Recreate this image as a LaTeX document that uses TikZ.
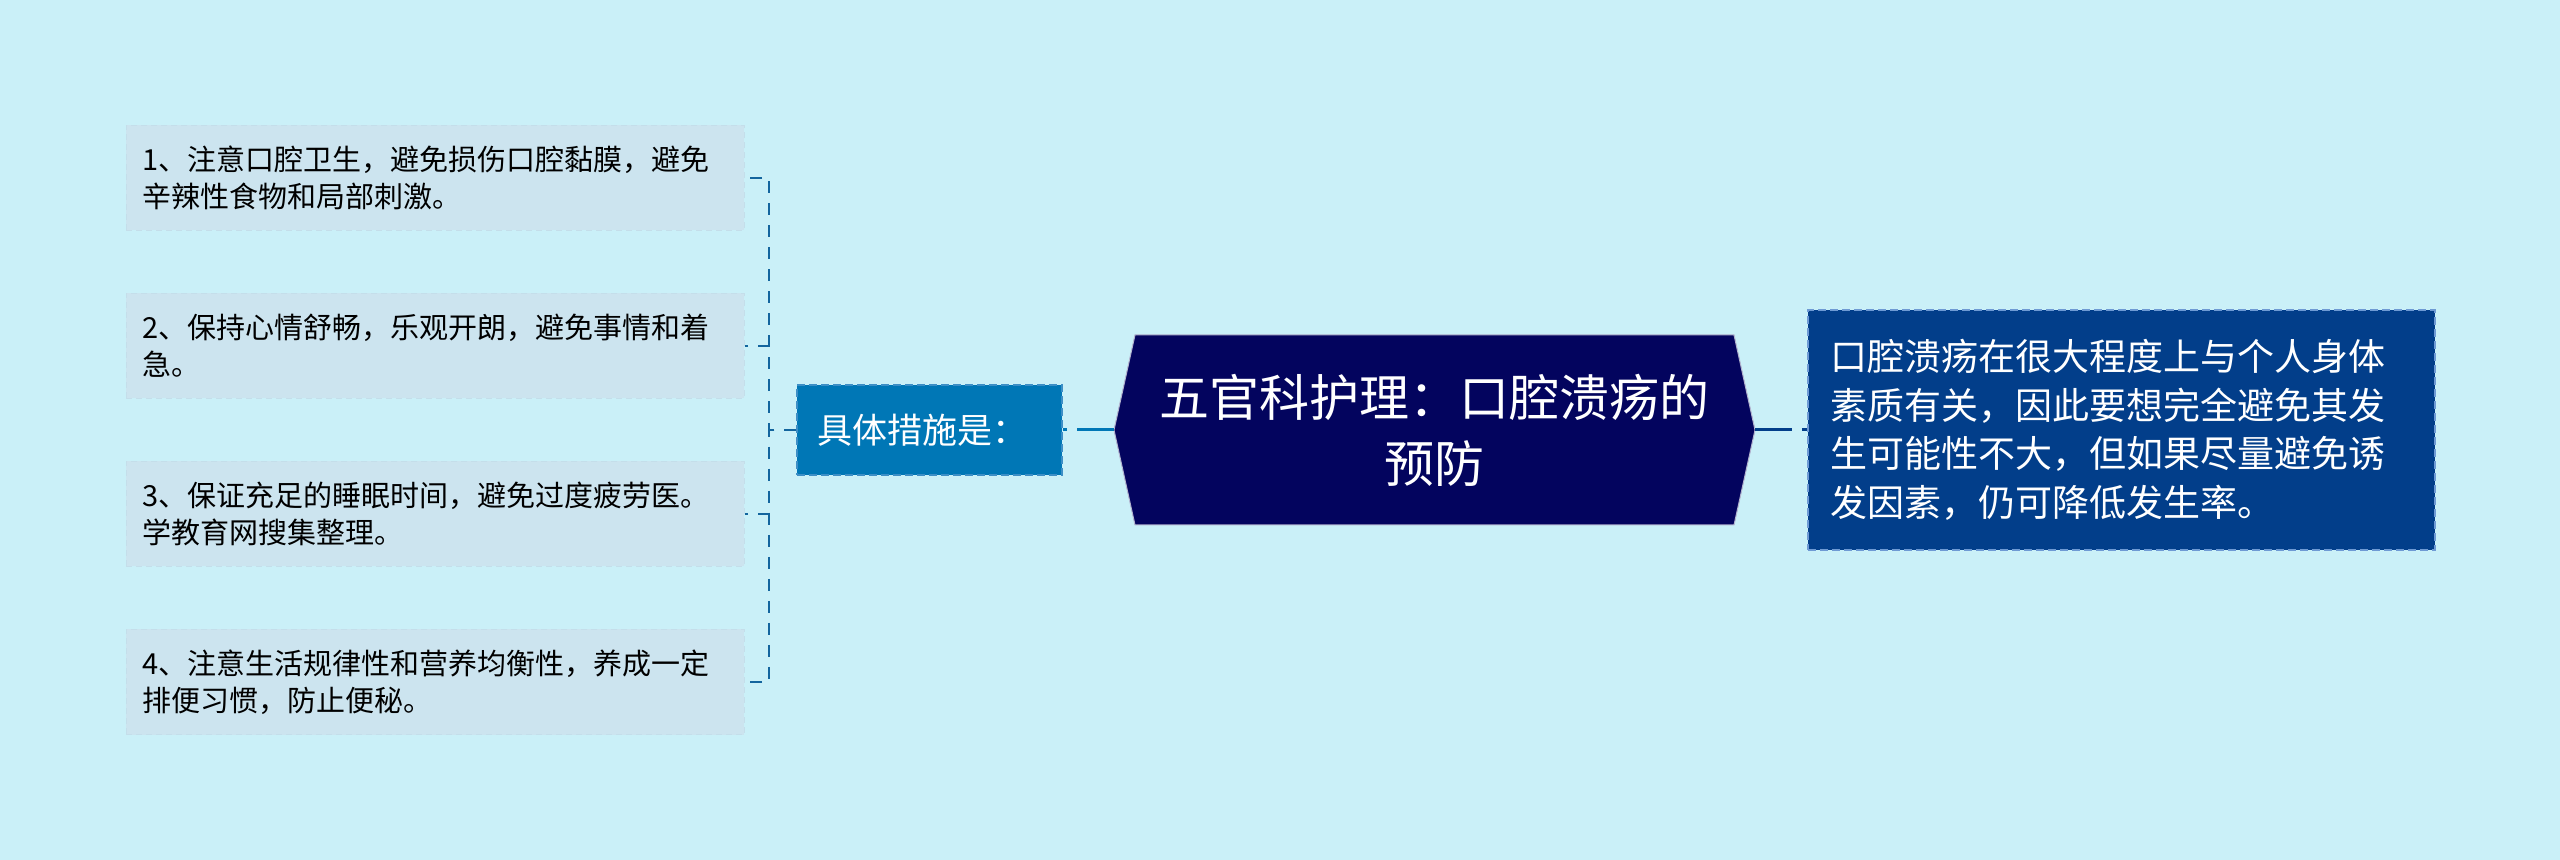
\documentclass[tikz,border=0pt]{standalone}
\usepackage{fontspec}
\newfontfamily\cjk{Noto Sans CJK SC}
\definecolor{bgc}{HTML}{CAF0F8}
\definecolor{leaffill}{HTML}{CCE4EF}
\definecolor{leafedge}{HTML}{C4DEEA}
\definecolor{midfill}{HTML}{0077B6}
\definecolor{midedge}{HTML}{3D8FC6}
\definecolor{rootfill}{HTML}{03045E}
\definecolor{rightfill}{HTML}{023E8A}
\definecolor{rightedge}{HTML}{6E9AD4}
\definecolor{leafline}{HTML}{13659E}
\tikzset{
  leafbox/.style={rectangle, fill=leaffill, draw=leafedge, dash pattern=on 3pt off 2pt, line width=0.5pt,
    minimum width=309pt, minimum height=52.5pt, text width=293pt, inner xsep=8pt, inner ysep=0pt,
    align=left, font=\cjk\fontsize{14.5pt}{18.5pt}\selectfont, text=black},
  midbox/.style={rectangle, fill=midfill, draw=midedge, dash pattern=on 4pt off 2pt, line width=1pt,
    minimum width=132.5pt, minimum height=45pt, text width=112.5pt, inner xsep=10pt, align=left,
    font=\cjk\fontsize{17.5pt}{20pt}\selectfont, text=white},
  roottext/.style={align=center, font=\cjk\fontsize{25pt}{33pt}\selectfont, text=white, inner sep=0pt},
  rightbox/.style={rectangle, fill=rightfill, draw=rightedge, dash pattern=on 4pt off 2pt, line width=1pt,
    minimum width=313.5pt, minimum height=120pt, text width=291.5pt, inner xsep=11pt, inner ysep=0pt,
    align=left, font=\cjk\fontsize{18.5pt}{24.3pt}\selectfont, text=white},
  leafconn/.style={draw=leafline, line width=1.2pt, dash pattern=on 6pt off 5pt},
  rootconnL/.style={draw=midfill, line width=1.5pt, dash pattern=on 18.5pt off 5pt},
  rootconnR/.style={draw=rightfill, line width=1.5pt, dash pattern=on 18.5pt off 5pt},
}
\begin{document}
\begin{tikzpicture}[x=0.5pt,y=-0.5pt]
\fill[bgc] (0,0) rectangle (2560,860);
\useasboundingbox (0,0) rectangle (2560,860);

% root shape
\fill[rootfill] (1135,335) -- (1734,335) -- (1755,430) -- (1734,525) -- (1135,525) -- (1114,430) -- cycle;
\draw[white!70!rootfill, line width=0.5pt] (1135,335) -- (1734,335) -- (1755,430) -- (1734,525) -- (1135,525) -- (1114,430) -- cycle;
\coordinate (rootL) at (1114,430);
\coordinate (rootR) at (1755,430);
\node[roottext] (root) at (1434,430) {五官科护理：口腔溃疡的\\预防};

% middle node
\node[midbox] (mid) at (929.5,430) {具体措施是：};

% right node
\node[rightbox] (right) at (2121.5,430) {口腔溃疡在很大程度上与个人身体\\素质有关，因此要想完全避免其发\\生可能性不大，但如果尽量避免诱\\发因素，仍可降低发生率。};

% leaves
\node[leafbox] (leaf1) at (435,178) {1、注意口腔卫生，避免损伤口腔黏膜，避免\\辛辣性食物和局部刺激。};
\node[leafbox] (leaf2) at (435,346) {2、保持心情舒畅，乐观开朗，避免事情和着\\急。};
\node[leafbox] (leaf3) at (435,514) {3、保证充足的睡眠时间，避免过度疲劳医。\\学教育网搜集整理。};
\node[leafbox] (leaf4) at (435,682) {4、注意生活规律性和营养均衡性，养成一定\\排便习惯，防止便秘。};

% connectors
\draw[rootconnL] (rootL) -- (mid.east);
\draw[rootconnR] (rootR) -- (right.west);
\foreach \l in {leaf1,leaf2,leaf3,leaf4}
  \draw[leafconn] (mid.west) -- ++(-27,0) |- (\l.east);
\end{tikzpicture}
\end{document}
